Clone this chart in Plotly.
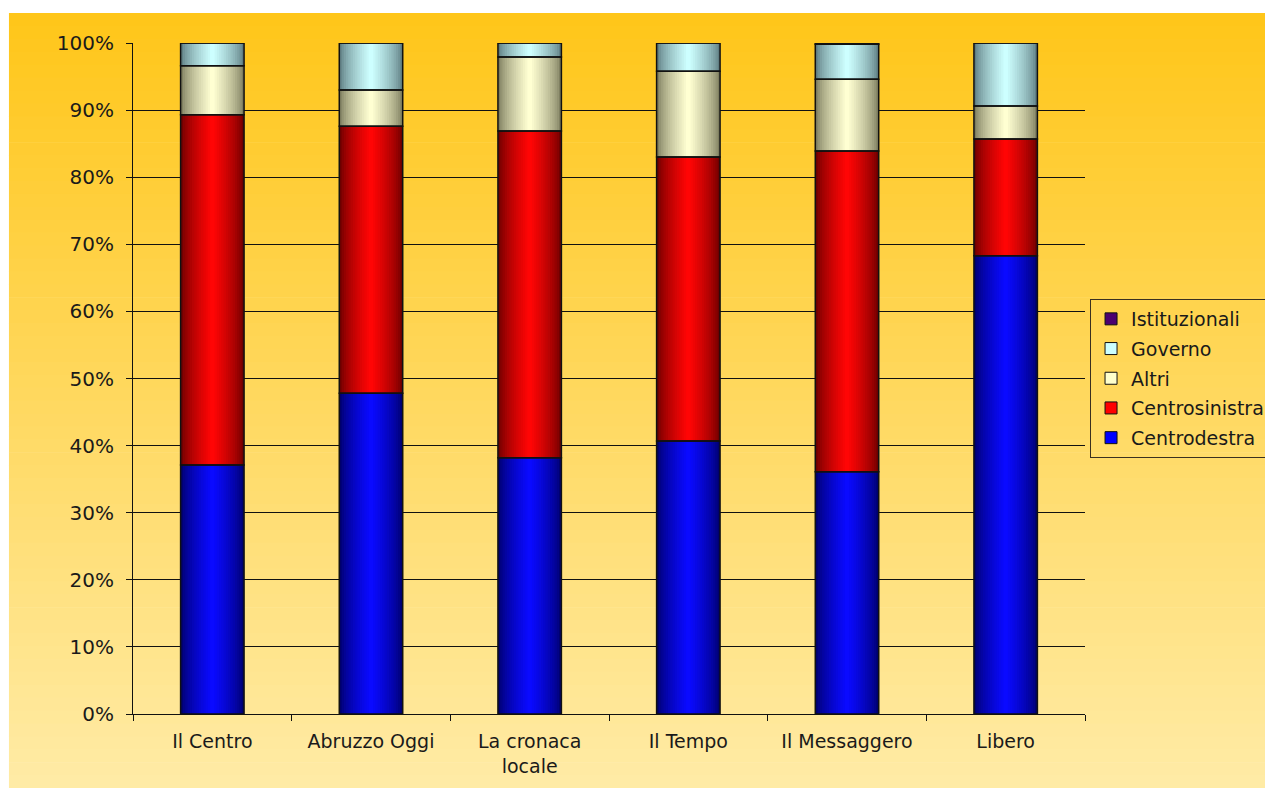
import plotly.graph_objects as go

categories = ["Il Centro", "Abruzzo Oggi", "La cronaca<br>locale", "Il Tempo", "Il Messaggero", "Libero"]
centrodestra = [37.1, 47.8, 38.2, 40.7, 36.1, 68.3]
centrosinistra = [52.2, 39.8, 48.7, 42.3, 47.8, 17.4]
altri = [7.3, 5.4, 11.0, 12.8, 10.7, 4.9]
governo = [3.4, 7.0, 2.1, 4.2, 5.2, 9.4]
istituzionali = [0.0, 0.0, 0.0, 0.0, 0.2, 0.0]
y_ticks = [0, 10, 20, 30, 40, 50, 60, 70, 80, 90, 100]
y_labels = [f"{v}%" for v in y_ticks]

series = [
    ("Centrodestra", centrodestra, (0, 0, 110), (10, 10, 255), "#0000FF"),
    ("Centrosinistra", centrosinistra, (110, 0, 0), (255, 5, 5), "#FF0000"),
    ("Altri", altri, (125, 125, 95), (255, 255, 210), "#FFFFCC"),
    ("Governo", governo, (95, 125, 130), (205, 255, 255), "#CCFFFF"),
    ("Istituzionali", istituzionali, (40, 0, 60), (90, 0, 120), "#4B0070"),
]

BAR_W = 0.4
N_LAYERS = 14
FONT = "DejaVu Sans"
TXT = "#1a1a1a"

def mix(c0, c1, t):
    return "rgb(%d,%d,%d)" % tuple(round(a + (b - a) * t) for a, b in zip(c0, c1))

fig = go.Figure()

bases = []
running = [0.0] * len(categories)
for _, vals, *_ in series:
    bases.append(list(running))
    running = [r + v for r, v in zip(running, vals)]

# shaded fills (layers of narrowing bars to imitate cylinder shading)
for (name, vals, c_edge, c_mid, _), base in zip(series, bases):
    for k in range(N_LAYERS):
        t = k / (N_LAYERS - 1)
        w = BAR_W * (1 - k / N_LAYERS)
        fig.add_trace(go.Bar(
            x=categories, y=vals, base=base, width=w,
            marker=dict(color=mix(c_edge, c_mid, t ** 0.7), line=dict(width=0)),
            showlegend=False, hoverinfo="skip",
        ))

# black outlines
for (name, vals, *_), base in zip(series, bases):
    fig.add_trace(go.Bar(
        x=categories, y=vals, base=base, width=BAR_W,
        marker=dict(color="rgba(0,0,0,0)", line=dict(color="#111111", width=1.5)),
        showlegend=False, name=name,
    ))

# legend entries (on a hidden axis so only the legend shows), top entry first
for name, vals, _, _, solid in reversed(series):
    fig.add_trace(go.Bar(
        x=categories, y=vals, name=name, yaxis="y2", legendgroup=name,
        marker=dict(color=solid, line=dict(color="#111111", width=1)),
        hoverinfo="skip",
    ))

# background gradient strips
top = (255, 198, 26)
bot = (255, 235, 165)
n_strips = 60
y_top, y_bot = 1.0447, -0.1103
for i in range(n_strips):
    t = i / (n_strips - 1)
    y0 = y_top + (y_bot - y_top) * i / n_strips
    y1 = y_top + (y_bot - y_top) * (i + 1) / n_strips
    fig.add_shape(type="rect", xref="paper", yref="paper",
                  x0=-0.1303, x1=1.2, y0=y1 - 0.001, y1=y0,
                  fillcolor=mix(top, bot, t), line=dict(width=0), layer="below")

fig.update_layout(
    width=1265, height=788,
    margin=dict(l=133, r=180, t=43, b=74, autoexpand=False),
    paper_bgcolor="white",
    plot_bgcolor="rgba(0,0,0,0)",
    barmode="overlay",
    bargap=0.6,
    font=dict(family=FONT, size=19, color=TXT),
    xaxis=dict(
        showline=True, linecolor="#111111", linewidth=1,
        ticks="outside", tickson="boundaries", ticklen=6, tickcolor="#111111",
        showgrid=False, tickfont=dict(size=19, color=TXT), ticklabelstandoff=10,
    ),
    yaxis=dict(
        range=[0, 100], tickvals=y_ticks, ticktext=y_labels,
        showline=True, linecolor="#111111", linewidth=1,
        ticks="outside", ticklen=6, tickcolor="#111111",
        showgrid=True, gridcolor="#111111", gridwidth=1,
        zeroline=False, tickfont=dict(size=20, color=TXT), ticklabelstandoff=8,
    ),
    yaxis2=dict(overlaying="y", range=[1000, 1001], visible=False),
    legend=dict(
        x=1.0053, xanchor="left", y=0.5, yanchor="middle",
        bordercolor="#3a3020", borderwidth=1, bgcolor="rgba(0,0,0,0)",
        font=dict(size=19, color=TXT), traceorder="grouped",
        itemwidth=30, tracegroupgap=2,
    ),
)

fig.write_html("out.html")
